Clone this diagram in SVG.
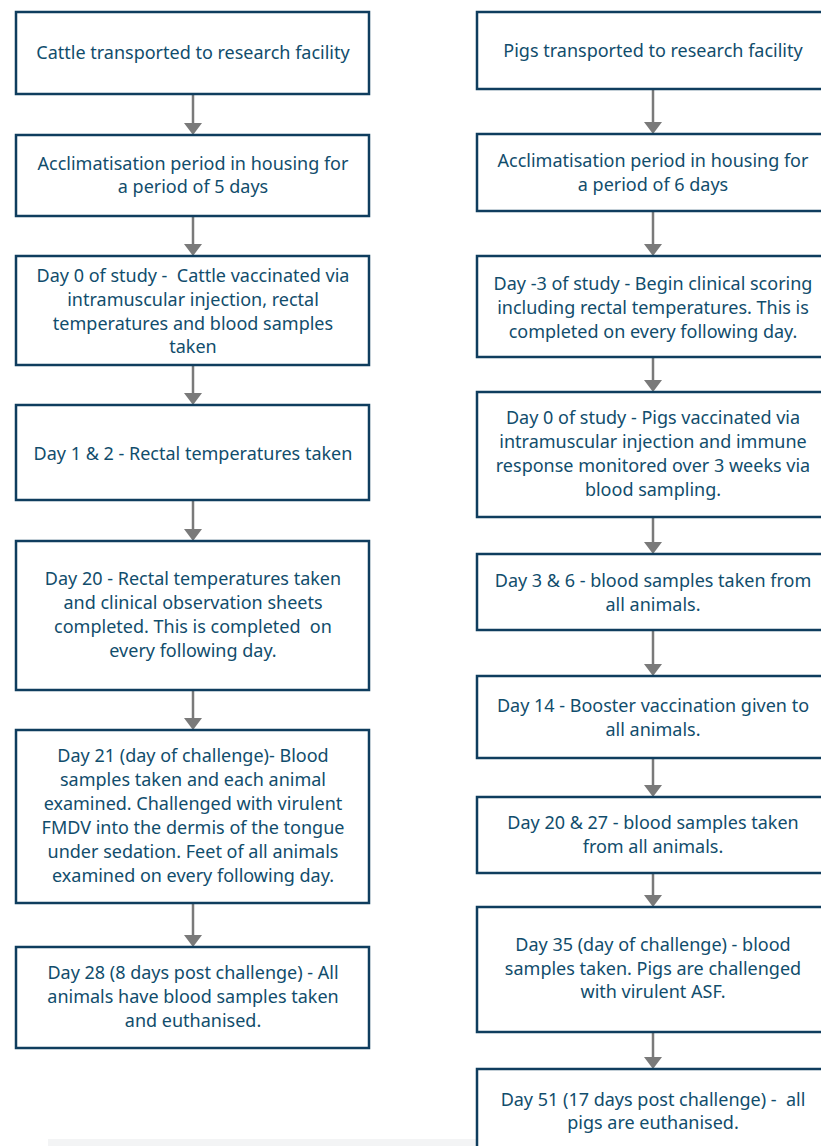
<svg xmlns="http://www.w3.org/2000/svg" width="821" height="1146" viewBox="0 0 821 1146">
<defs>
<style>
.box{fill:#ffffff;stroke:#0f3d5e;stroke-width:2.5}
.t{font-family:"Noto Sans","Open Sans","DejaVu Sans",sans-serif;font-size:18px;fill:#114d6c;text-anchor:middle}
.c{stroke:#7a7a7a;stroke-width:2.5;fill:none}
.h{fill:#7a7a7a}
</style>
</defs>
<rect x="0" y="0" width="821" height="1146" fill="#ffffff"/>
<rect x="48" y="1139" width="773" height="7" fill="#f3f4f5"/>
<g id="connectors">
<line class="c" x1="193" y1="94" x2="193" y2="124"/><polygon class="h" points="184,123 202,123 193,135"/>
<line class="c" x1="193" y1="216" x2="193" y2="245"/><polygon class="h" points="184,244 202,244 193,256"/>
<line class="c" x1="193" y1="365" x2="193" y2="394"/><polygon class="h" points="184,393 202,393 193,405"/>
<line class="c" x1="193" y1="500" x2="193" y2="530"/><polygon class="h" points="184,529 202,529 193,541"/>
<line class="c" x1="193" y1="690" x2="193" y2="719"/><polygon class="h" points="184,718 202,718 193,730"/>
<line class="c" x1="193" y1="903" x2="193" y2="936"/><polygon class="h" points="184,935 202,935 193,947"/>
<line class="c" x1="653" y1="89" x2="653" y2="123"/><polygon class="h" points="644,122 662,122 653,134"/>
<line class="c" x1="653" y1="211" x2="653" y2="245"/><polygon class="h" points="644,244 662,244 653,256"/>
<line class="c" x1="653" y1="357" x2="653" y2="381"/><polygon class="h" points="644,380 662,380 653,392"/>
<line class="c" x1="653" y1="517" x2="653" y2="543"/><polygon class="h" points="644,542 662,542 653,554"/>
<line class="c" x1="653" y1="630" x2="653" y2="665"/><polygon class="h" points="644,664 662,664 653,676"/>
<line class="c" x1="653" y1="758" x2="653" y2="786"/><polygon class="h" points="644,785 662,785 653,797"/>
<line class="c" x1="653" y1="873" x2="653" y2="896"/><polygon class="h" points="644,895 662,895 653,907"/>
<line class="c" x1="653" y1="1032" x2="653" y2="1058"/><polygon class="h" points="644,1057 662,1057 653,1069"/>
</g>
<g id="c1"><rect class="box" x="16" y="12" width="353" height="82"/>
<text class="t" x="193" y="59">Cattle transported to research facility</text></g>
<g id="c2"><rect class="box" x="16" y="135" width="353" height="81"/>
<text class="t" x="193" y="170">Acclimatisation period in housing for</text>
<text class="t" x="193" y="193">a period of 5 days</text></g>
<g id="c3"><rect class="box" x="16" y="256" width="353" height="109"/>
<text class="t" x="193" y="282" xml:space="preserve">Day 0 of study -  Cattle vaccinated via</text>
<text class="t" x="193" y="306">intramuscular injection, rectal</text>
<text class="t" x="193" y="330">temperatures and blood samples</text>
<text class="t" x="193" y="353">taken</text></g>
<g id="c4"><rect class="box" x="16" y="405" width="353" height="95"/>
<text class="t" x="193" y="460">Day 1 &amp; 2 - Rectal temperatures taken</text></g>
<g id="c5"><rect class="box" x="16" y="541" width="353" height="149"/>
<text class="t" x="193" y="585">Day 20 - Rectal temperatures taken</text>
<text class="t" x="193" y="609">and clinical observation sheets</text>
<text class="t" x="193" y="633" xml:space="preserve">completed. This is completed  on</text>
<text class="t" x="193" y="657">every following day.</text></g>
<g id="c6"><rect class="box" x="16" y="730" width="353" height="173"/>
<text class="t" x="193" y="762">Day 21 (day of challenge)- Blood</text>
<text class="t" x="193" y="786">samples taken and each animal</text>
<text class="t" x="193" y="810">examined. Challenged with virulent</text>
<text class="t" x="193" y="834">FMDV into the dermis of the tongue</text>
<text class="t" x="193" y="858">under sedation. Feet of all animals</text>
<text class="t" x="193" y="882">examined on every following day.</text></g>
<g id="c7"><rect class="box" x="16" y="947" width="353" height="101"/>
<text class="t" x="193" y="979">Day 28 (8 days post challenge) - All</text>
<text class="t" x="193" y="1003">animals have blood samples taken</text>
<text class="t" x="193" y="1027">and euthanised.</text></g>
<g id="p1"><rect class="box" x="477" y="12" width="352" height="77"/>
<text class="t" x="653" y="57">Pigs transported to research facility</text></g>
<g id="p2"><rect class="box" x="477" y="134" width="352" height="77"/>
<text class="t" x="653" y="167">Acclimatisation period in housing for</text>
<text class="t" x="653" y="191">a period of 6 days</text></g>
<g id="p3"><rect class="box" x="477" y="256" width="352" height="101"/>
<text class="t" x="653" y="290">Day -3 of study - Begin clinical scoring</text>
<text class="t" x="653" y="314">including rectal temperatures. This is</text>
<text class="t" x="653" y="338">completed on every following day.</text></g>
<g id="p4"><rect class="box" x="477" y="392" width="352" height="125"/>
<text class="t" x="653" y="424">Day 0 of study - Pigs vaccinated via</text>
<text class="t" x="653" y="448">intramuscular injection and immune</text>
<text class="t" x="653" y="472">response monitored over 3 weeks via</text>
<text class="t" x="653" y="496">blood sampling.</text></g>
<g id="p5"><rect class="box" x="477" y="554" width="352" height="76"/>
<text class="t" x="653" y="587">Day 3 &amp; 6 - blood samples taken from</text>
<text class="t" x="653" y="611">all animals.</text></g>
<g id="p6"><rect class="box" x="477" y="676" width="352" height="82"/>
<text class="t" x="653" y="712">Day 14 - Booster vaccination given to</text>
<text class="t" x="653" y="736">all animals.</text></g>
<g id="p7"><rect class="box" x="477" y="797" width="352" height="76"/>
<text class="t" x="653" y="829">Day 20 &amp; 27 - blood samples taken</text>
<text class="t" x="653" y="853">from all animals.</text></g>
<g id="p8"><rect class="box" x="477" y="907" width="352" height="125"/>
<text class="t" x="653" y="951">Day 35 (day of challenge) - blood</text>
<text class="t" x="653" y="975">samples taken. Pigs are challenged</text>
<text class="t" x="653" y="998">with virulent ASF.</text></g>
<g id="p9"><rect class="box" x="477" y="1069" width="352" height="90"/>
<text class="t" x="653" y="1106" xml:space="preserve">Day 51 (17 days post challenge) -  all</text>
<text class="t" x="653" y="1129">pigs are euthanised.</text></g>
</svg>
